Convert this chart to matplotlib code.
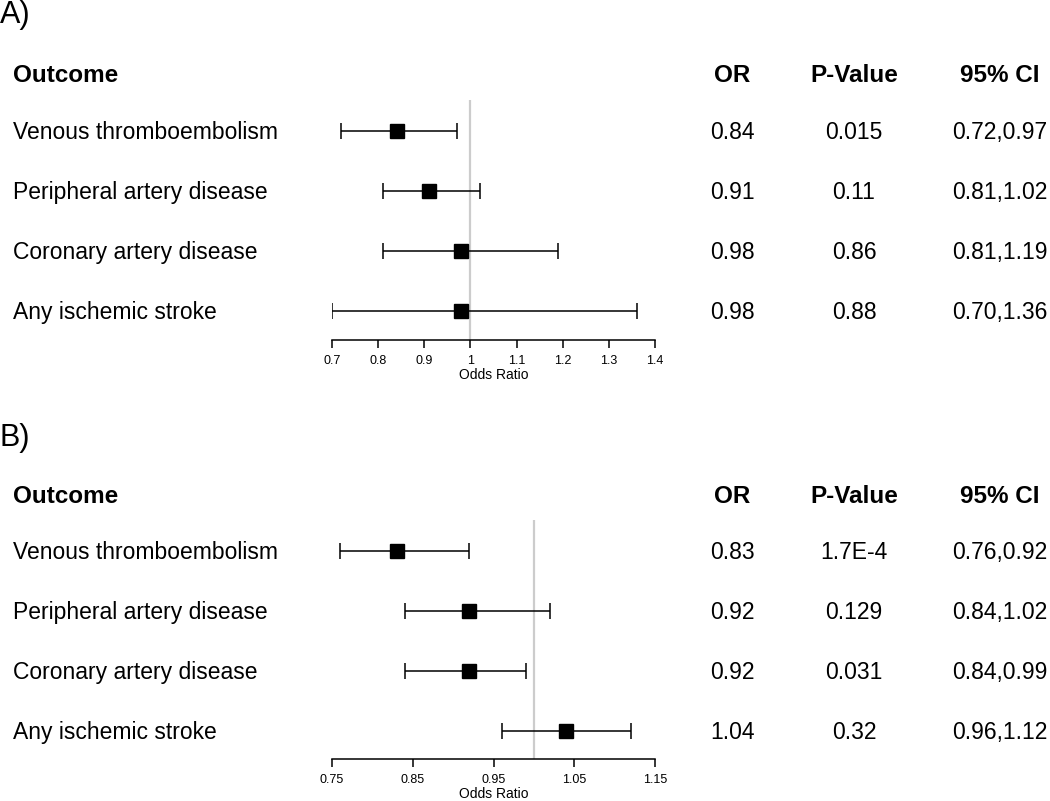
import matplotlib.pyplot as plt
import matplotlib.transforms as mtransforms

plt.rcParams['font.family'] = ['Liberation Sans', 'DejaVu Sans']

outcomes = ['Venous thromboembolism', 'Peripheral artery disease',
            'Coronary artery disease', 'Any ischemic stroke']

# panel A
or_a = [0.84, 0.91, 0.98, 0.98]
lo_a = [0.72, 0.81, 0.81, 0.70]
hi_a = [0.97, 1.02, 1.19, 1.36]
p_a = ['0.015', '0.11', '0.86', '0.88']
ticks_a = [0.7, 0.8, 0.9, 1.0, 1.1, 1.2, 1.3, 1.4]
ticklabels_a = ['0.7', '0.8', '0.9', '1', '1.1', '1.2', '1.3', '1.4']

# panel B
or_b = [0.83, 0.92, 0.92, 1.04]
lo_b = [0.76, 0.84, 0.84, 0.96]
hi_b = [0.92, 1.02, 0.99, 1.12]
p_b = ['1.7E-4', '0.129', '0.031', '0.32']
ticks_b = [0.75, 0.85, 0.95, 1.05, 1.15]
ticklabels_b = ['0.75', '0.85', '0.95', '1.05', '1.15']

W, H = 1050, 801
ROW = 60  # pixels between rows

fig = plt.figure(figsize=(W / 100, H / 100), dpi=100)


def panel(letter, ors, los, his, pvals, ticks, ticklabels,
          letter_y, head_y, row0, spine_y, top_y):
    ax = fig.add_axes([332 / W, 1 - spine_y / H, (655 - 332) / W, (spine_y - top_y) / H])
    ax.set_xlim(ticks[0], ticks[-1])
    ax.set_ylim((spine_y - row0) / ROW, (top_y - row0) / ROW)
    ys = list(range(len(ors)))
    xerr = [[o - l for o, l in zip(ors, los)], [h - o for o, h in zip(ors, his)]]
    ax.axvline(1.0, color='#cccccc', lw=1.6, zorder=0)
    ax.errorbar(ors, ys, xerr=xerr, fmt='s', color='black', ms=10,
                elinewidth=1.1, capsize=5.5, capthick=1.1)
    for s in ['left', 'top', 'right']:
        ax.spines[s].set_visible(False)
    ax.spines['bottom'].set_linewidth(1.1)
    ax.set_yticks([])
    ax.set_xticks(ticks, ticklabels)
    ax.tick_params(axis='x', direction='out', length=5.5, width=1.1, labelsize=9, pad=5.5)
    ax.set_xlabel('Odds Ratio', fontsize=10, labelpad=0.5)

    # text columns, rows tied to the data y positions
    tr = mtransforms.blended_transform_factory(fig.transFigure, ax.transData)
    tr = mtransforms.offset_copy(tr, fig=fig, y=-8, units='dots')
    cols = [(13 / W, 'left'), (732 / W, 'center'), (854 / W, 'center'), (1000 / W, 'center')]
    for i, y in enumerate(ys):
        vals = [outcomes[i], f'{ors[i]:.2f}', pvals[i], f'{los[i]:.2f},{his[i]:.2f}']
        for (x, ha), v in zip(cols, vals):
            ax.text(x, y, v, transform=tr, ha=ha, va='baseline', fontsize=16.5)

    heads = ['Outcome', 'OR', 'P-Value', '95% CI']
    for (x, ha), h in zip(cols, heads):
        fig.text(x, 1 - head_y / H, h, ha=ha, va='baseline', fontsize=17.5, fontweight='bold')
    fig.text(0, 1 - letter_y / H, letter, ha='left', va='baseline', fontsize=22)


panel('A)', or_a, lo_a, hi_a, p_a, ticks_a, ticklabels_a,
      letter_y=23, head_y=82, row0=131, spine_y=340, top_y=100)
panel('B)', or_b, lo_b, hi_b, p_b, ticks_b, ticklabels_b,
      letter_y=446, head_y=503, row0=551, spine_y=759, top_y=520)

fig.savefig('out.png', dpi=100)
